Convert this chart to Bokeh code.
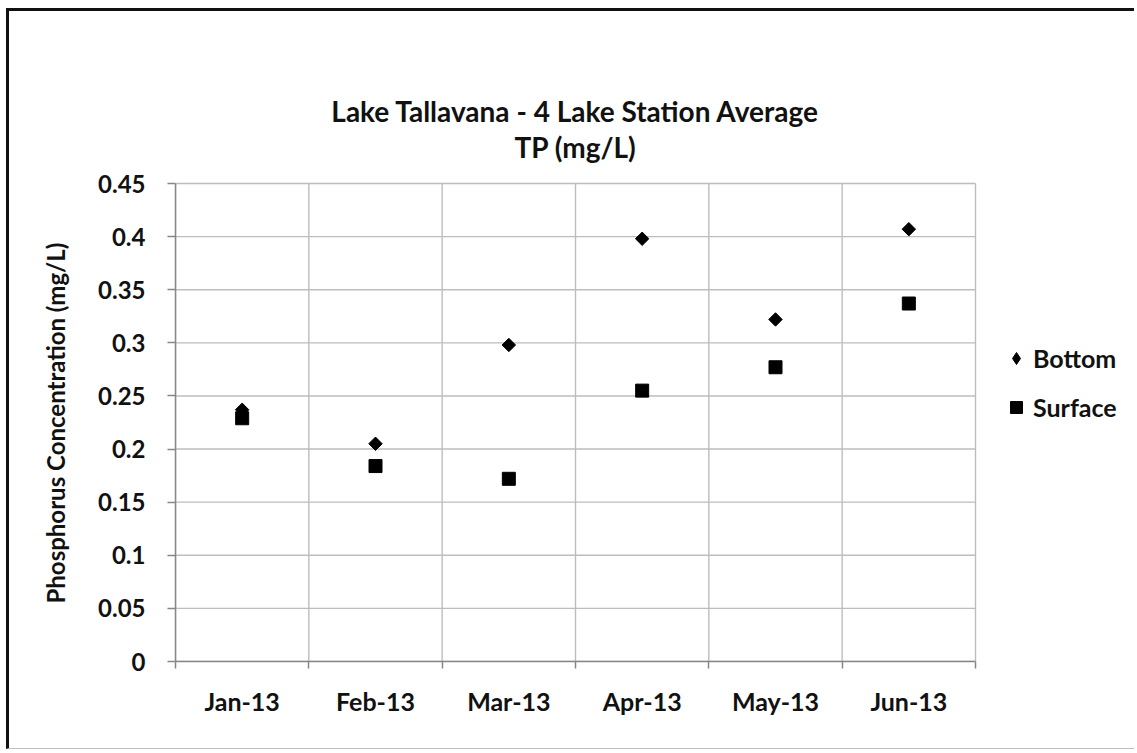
import math
from bokeh.plotting import figure
from bokeh.models import FixedTicker, Legend, LegendItem, Label, Title, Range1d
from bokeh.embed import file_html
from bokeh.resources import INLINE

# ---- data ----
months = ["Jan-13", "Feb-13", "Mar-13", "Apr-13", "May-13", "Jun-13"]
bottom = [0.237, 0.205, 0.298, 0.398, 0.322, 0.407]
surface = [0.229, 0.184, 0.172, 0.255, 0.277, 0.337]
y_ticks = [0, 0.05, 0.1, 0.15, 0.2, 0.25, 0.3, 0.35, 0.4, 0.45]
y_tick_labels = ["0", "0.05", "0.1", "0.15", "0.2", "0.25", "0.3", "0.35", "0.4", "0.45"]
title_lines = ["Lake Tallavana - 4 Lake Station Average", "TP (mg/L)"]
y_label = "Phosphorus Concentration (mg/L)"
series_names = ["Bottom", "Surface"]

FONT = "Lato"
TXT = "#111111"
grid_col = "#bdbdbd"
axis_col = "#878787"

n = len(months)
xs = [i + 0.5 for i in range(n)]
bounds = list(range(n + 1))
y_min, y_max = y_ticks[0], y_ticks[-1]

# layout (pixels)
W, H = 1128, 741
left_pad, bottom_pad = 166, 91
plot_w, plot_h = 800, 478          # size of the chart's plotting box
frame_w = W - left_pad
frame_h = H - bottom_pad
x_end = n * frame_w / plot_w
y_end = y_min + (y_max - y_min) * frame_h / plot_h

p = figure(width=W, height=H,
           x_range=Range1d(0, x_end), y_range=Range1d(y_min, y_end),
           output_backend="svg", toolbar_location=None,
           min_border_left=left_pad, min_border_right=0,
           min_border_top=0, min_border_bottom=bottom_pad,
           background_fill_color="white", border_fill_color="white")
p.outline_line_color = None
p.xgrid.visible = False
p.ygrid.visible = False

# grid lines drawn only over the chart box
p.segment(x0=bounds, y0=[y_min] * len(bounds), x1=bounds, y1=[y_max] * len(bounds),
          line_color=grid_col, line_width=1.4)
p.segment(x0=[0] * len(y_ticks), y0=y_ticks, x1=[n] * len(y_ticks), y1=y_ticks,
          line_color=grid_col, line_width=1.4)

# x axis
xa = p.xaxis[0]
xa.bounds = (0, n)
xa.ticker = FixedTicker(ticks=xs, minor_ticks=bounds)
xa.major_label_overrides = {x: m for x, m in zip(xs, months)}
xa.major_tick_in = 0
xa.major_tick_out = 0
xa.minor_tick_in = 0
xa.minor_tick_out = 7
xa.minor_tick_line_color = axis_col
xa.minor_tick_line_width = 1.5
xa.axis_line_color = axis_col
xa.axis_line_width = 1.5
xa.major_label_text_font = FONT
xa.major_label_text_font_style = "bold"
xa.major_label_text_font_size = "25px"
xa.major_label_text_color = TXT
xa.major_label_standoff = 17

# y axis
ya = p.yaxis[0]
ya.bounds = (y_min, y_max)
ya.ticker = FixedTicker(ticks=y_ticks)
ya.major_label_overrides = {t: s for t, s in zip(y_ticks, y_tick_labels)}
ya.major_tick_in = 0
ya.major_tick_out = 8
ya.minor_tick_in = 0
ya.minor_tick_out = 0
ya.major_tick_line_color = axis_col
ya.major_tick_line_width = 1.5
ya.axis_line_color = axis_col
ya.axis_line_width = 1.5
ya.major_label_text_font = FONT
ya.major_label_text_font_style = "bold"
ya.major_label_text_font_size = "24px"
ya.major_label_text_color = TXT
ya.major_label_standoff = 22

# y axis title, placed along the chart box (not the whole frame)
p.add_layout(Title(text=y_label, align="left", offset=58, vertical_align="bottom",
                   standoff=52, text_font=FONT, text_font_style="bold",
                   text_font_size="24px", text_color=TXT), "left")

# markers
p.scatter(xs, bottom, marker="square", size=9.5, angle=math.pi / 4,
          fill_color="black", line_color="black")
r_surface = p.scatter(xs, surface, marker="square", size=13,
                      fill_color="black", line_color="black")
# legend swatch for the diamond series (legend glyphs are drawn unrotated)
r_bottom_key = p.scatter(x=[float("nan")], y=[float("nan")], marker="diamond", size=13,
                         fill_color="black", line_color="black")

# title lines
for txt, off in zip(title_lines, [73, 37]):
    p.add_layout(Label(x=n / 2, y=y_max, text=txt, y_offset=off,
                       text_align="center", text_baseline="alphabetic",
                       text_font=FONT, text_font_style="bold",
                       text_font_size="28px", text_color=TXT))

legend = Legend(items=[LegendItem(label=series_names[0], renderers=[r_bottom_key]),
                       LegendItem(label=series_names[1], renderers=[r_surface])],
                location=(826, 239), orientation="vertical",
                glyph_width=30, glyph_height=30, label_height=25,
                label_standoff=2, spacing=19, padding=0, margin=0,
                border_line_color=None, background_fill_alpha=0,
                label_text_font=FONT, label_text_font_style="bold",
                label_text_font_size="25px", label_text_color=TXT)
p.add_layout(legend, "center")

p.styles = {"border-top": "3px solid #111111", "border-left": "3px solid #111111",
            "border-bottom": "1px solid #c0c0c0",
            "margin-top": "8px", "margin-left": "6px"}

open("out.html", "w").write(file_html(p, INLINE))
